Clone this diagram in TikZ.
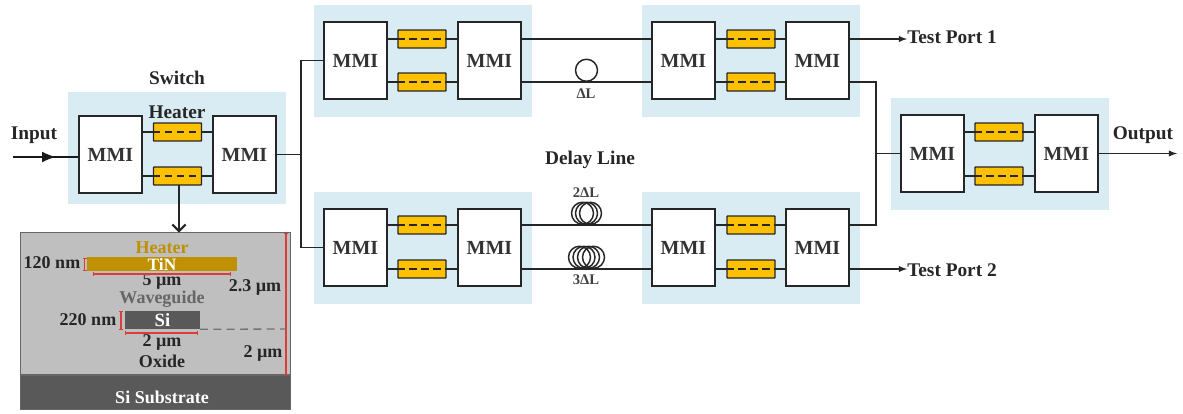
\documentclass[tikz,border=0pt]{standalone}
\usepackage{fontspec}
\setmainfont{Liberation Serif}
\usetikzlibrary{arrows.meta,decorations.markings}
\definecolor{blockblue}{HTML}{DAECF3}
\definecolor{heatergold}{HTML}{FFC000}
\definecolor{tingold}{HTML}{BF9000}
\definecolor{oxidegray}{HTML}{BFBFBF}
\definecolor{sigray}{HTML}{595959}
\definecolor{dimred}{HTML}{DC3C3C}

\begin{document}
\begin{tikzpicture}
[
	x=.75pt, y=-.75pt,
% Light blue block style
	block/.style={
		fill = blockblue,
		inner sep = 0pt,
		minimum width = 163.5pt,
		minimum height = 84pt},
% MMI style
	mmi/.style={
		draw = black!85,
		fill = white,
		line width = 1.1pt,
		inner sep = 0pt,
		minimum width = 47.25pt,
		minimum height = 57.75pt,
		font = \fontsize{15}{15}\selectfont\bfseries,
		text = black!80},
% Heater style
	heater/.style={
		draw = black!85,
		fill = heatergold,
		line width = 1.1pt,
		rounded corners = .5pt,
		inner sep = 0pt,
		minimum width = 36pt,
		minimum height = 13.5pt},
% Waveguide style
	guide/.style={
		line width = 1.1pt,
		black!85},
% Heater dash style
	heaterdash/.style={
		line width = 1.3pt,
		black!85,
		dash pattern = on 5.5pt off 3.5pt},
% Line with Arrow style
	inputline/.style={
		line width = 1.4pt,
		black!90,
		postaction = decorate,
		decoration = {markings,
			mark = at position .66 with {\arrow[scale=1.5]{latex}}
		}
	},
% Delay loop style
	loopring/.style={
		circle,
		draw = black!85,
		line width = 1.1pt,
		inner sep = 0pt,
		minimum size = 16.5pt,
		anchor = south},
% Text styles
	bigtext/.style={
		font = \fontsize{14.5}{14.5}\selectfont\bfseries,
		text = black!85,
		inner sep = 0pt},
	sectext/.style={
		font = \fontsize{13.5}{13.5}\selectfont\bfseries,
		text = black!85,
		inner sep = 0pt},
	smalltext/.style={
		font = \fontsize{11}{11}\selectfont\bfseries,
		text = black!75,
		inner sep = 0pt},
% Layer style
	layer/.style={
		inner sep = 0pt,
		outer sep = 0pt},
% Dimension line style
	dimline/.style={
		dimred,
		line width = .9pt,
		{Bar[width=3pt]}-{Bar[width=3pt]}},
]
\useasboundingbox (0,0) rectangle (1183,414);

% Switch block
\node[block] (b1) at (177,148) {};
\node[mmi] (b1l) at (110.5,154.5) {MMI};
\node[mmi] (b1r) at (244.5,154.5) {MMI};
\node[heater] (b1t) at (177.5,132) {};
\node[heater] (b1d) at (177.5,176) {};

% Upper left block
\node[block] (b2) at (422.5,61) {};
\node[mmi] (b2l) at (355.5,60.5) {MMI};
\node[mmi] (b2r) at (489.5,60.5) {MMI};
\node[heater] (b2t) at (422,39) {};
\node[heater] (b2d) at (422,82) {};

% Lower left block
\node[block] (b3) at (422.5,248) {};
\node[mmi] (b3l) at (355.5,247.5) {MMI};
\node[mmi] (b3r) at (489.5,247.5) {MMI};
\node[heater] (b3t) at (422,225) {};
\node[heater] (b3d) at (422,269) {};

% Upper right block
\node[block] (b4) at (750.5,61) {};
\node[mmi] (b4l) at (683.5,60.5) {MMI};
\node[mmi] (b4r) at (817.5,60.5) {MMI};
\node[heater] (b4t) at (751,39) {};
\node[heater] (b4d) at (751,82) {};

% Lower right block
\node[block] (b5) at (750.5,248) {};
\node[mmi] (b5l) at (683.5,247.5) {MMI};
\node[mmi] (b5r) at (817.5,247.5) {MMI};
\node[heater] (b5t) at (751,225) {};
\node[heater] (b5d) at (751,269) {};

% Output block
\node[block] (b6) at (999.5,153.5) {};
\node[mmi] (b6l) at (932.5,153.5) {MMI};
\node[mmi] (b6r) at (1066.5,153.5) {MMI};
\node[heater] (b6t) at (999,132) {};
\node[heater] (b6d) at (999,176) {};

% Lines through the heaters
\foreach \b in {b1,b2,b3,b4,b5,b6} {
	\draw [guide] (\b l.east |- \b t) -- (\b t);
	\draw [guide] (\b t) -- (\b r.west |- \b t);
	\draw [guide] (\b l.east |- \b d) -- (\b d);
	\draw [guide] (\b d) -- (\b r.west |- \b d);
	\draw [heaterdash] (\b t.west) -- (\b t.east);
	\draw [heaterdash] (\b d.west) -- (\b d.east);
}

% Input and switch outputs
\coordinate (in) at (13,157);
\draw [inputline] (in) -- (b1l.west |- in);
\coordinate (splitm) at (301,154.5);
\draw [guide] (b1r.east) -- (splitm);
\draw [guide] (b2l.west) -| (splitm) |- (b3l.west);

% Delay paths
\draw [guide] (b2r.east |- b2t) -- (b4l.west |- b2t);
\draw [guide] (b2r.east |- b2d) -- (b4l.west |- b2d);
\draw [guide] (b3r.east |- b3t) -- (b5l.west |- b3t);
\draw [guide] (b3r.east |- b3d) -- (b5l.west |- b3d);

% Delay loops
\node[loopring] (d1) at (586.5,82) {};
\node[loopring] (d2a) at (582.5,225) {};
\node[loopring] (d2b) at (586.5,225) {};
\node[loopring] (d2c) at (590.5,225) {};
\node[loopring] (d3a) at (579.5,269) {};
\node[loopring] (d3b) at (584,269) {};
\node[loopring] (d3c) at (588.5,269) {};
\node[loopring] (d3d) at (593.5,269) {};

% Test ports
\node[bigtext,anchor=west] (tp1) at (907,37) {Test Port 1};
\node[bigtext,anchor=west] (tp2) at (907,270) {Test Port 2};
\draw [guide,-latex] (b4r.east |- b4t) -- (tp1.west |- b4t);
\draw [guide,-latex] (b5r.east |- b5d) -- (tp2.west |- b5d);

% Combining to the output block
\coordinate (joinm) at (876,153.5);
\draw [guide] (b4r.east |- b4d) -| (joinm) |- (b5r.east |- b5t);
\draw [guide] (joinm) -- (b6l.west);
\coordinate (out) at (1177,153.5);
\draw [guide,-latex] (b6r.east) -- (out);

% Block labels
\node[bigtext] (lin) at (34,135) {Input};
\node[bigtext] (lsw) at (177,78) {Switch};
\node[bigtext] (lht) at (177,112) {Heater};
\node[bigtext] (ldl) at (590,160) {Delay Line};
\node[bigtext] (lout) at (1143,135) {Output};
\node[smalltext] (l1) at (586,94) {ΔL};
\node[smalltext] (l2) at (586,193) {2ΔL};
\node[smalltext] (l3) at (586,280) {3ΔL};

% Cross section
\node[layer,draw=black!60,fill=oxidegray,line width=.8pt,
	minimum width=203pt,minimum height=106.5pt] (ox) at (155.5,303.5) {};
\node[layer,draw=black!60,fill=sigray,line width=.8pt,
	minimum width=203pt,minimum height=26pt] (sub) at (155.5,392.5) {};
\node[layer,fill=tingold,text=white,minimum width=112.5pt,minimum height=10.5pt,
	font=\fontsize{13}{13}\selectfont\bfseries] (tin) at (162,264) {TiN};
\node[layer,fill=sigray,text=white,minimum width=56.25pt,minimum height=14pt,
	font=\fontsize{14}{14}\selectfont\bfseries] (si) at (162.5,320) {Si};
\coordinate (tap) at (179,185);
\draw [guide,line width=1.5pt,-{Straight Barb[length=5pt,width=10pt]}] (tap) -- (tap |- ox.north);

% Cross section labels
\node[sectext,text=tingold] (lheat) at (162,248) {Heater};
\node[sectext,text=black!60] (lwg) at (162,299) {Waveguide};
\node[sectext] (l120) at (52,263) {120 nm};
\node[sectext] (l5) at (162,282) {5 µm};
\node[sectext] (l23) at (255,287) {2.3 µm};
\node[sectext] (l220) at (88,320) {220 nm};
\node[sectext] (l2b) at (162,342) {2 µm};
\node[sectext] (lox) at (162,361) {Oxide};
\node[sectext] (l2r) at (263,353) {2 µm};
\node[sectext,text=white] (lsub) at (162,397) {Si Substrate};

% Dimension lines
\coordinate (dtop) at (286,233);
\coordinate (dmid) at (286,329);
\coordinate (dbot) at (286,375);
\draw [dimline] (84.5,257.5) -- (84.5,271);
\draw [dimline] (93,274) -- (231,274);
\draw [dimline] (121,311) -- (121,330);
\draw [dimline] (125,333) -- (198,333);
\draw [dimline] (dtop) -- (dbot);
\draw [black!55,line width=1pt,dash pattern=on 6pt off 4pt] (si.south east) -- (dmid);
\end{tikzpicture}
\end{document}
